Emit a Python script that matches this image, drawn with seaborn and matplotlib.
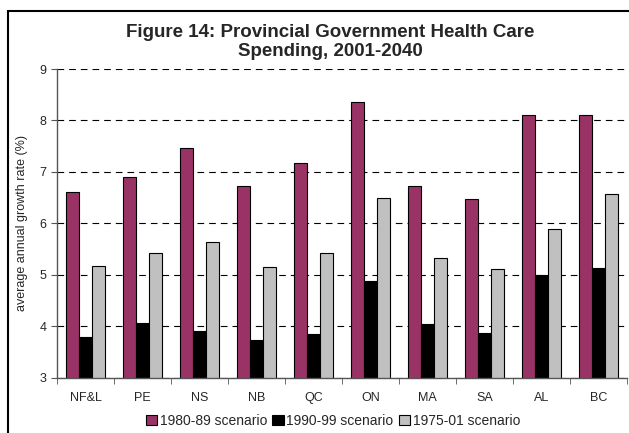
import numpy as np
import pandas as pd
import seaborn as sns
import matplotlib
matplotlib.use("Agg")
from matplotlib import pyplot as plt
from matplotlib.patches import Rectangle

# 数据
provinces = ["NF&L", "PE", "NS", "NB", "QC", "ON", "MA", "SA", "AL", "BC"]
scenarios = ["1980-89 scenario", "1990-99 scenario", "1975-01 scenario"]
rate_1980_89 = [6.61, 6.91, 7.46, 6.72, 7.18, 8.36, 6.73, 6.47, 8.11, 8.11]
rate_1990_99 = [3.79, 4.06, 3.91, 3.73, 3.84, 4.87, 4.05, 3.87, 5.00, 5.14]
rate_1975_01 = [5.17, 5.43, 5.64, 5.15, 5.43, 6.50, 5.33, 5.11, 5.89, 6.57]
colors = ["#993366", "#000000", "#C0C0C0"]

df = pd.DataFrame({
    "province": provinces * 3,
    "scenario": [s for s in scenarios for _ in provinces],
    "rate": rate_1980_89 + rate_1990_99 + rate_1975_01,
})

sns.set_style("white")
plt.rcParams["font.family"] = ["Liberation Sans", "DejaVu Sans"]

fig = plt.figure(figsize=(6.29, 4.33), dpi=100)
ax = fig.add_axes([57 / 629, 1 - 377.7 / 433, 570 / 629, (377.7 - 69) / 433])

sns.barplot(data=df, x="province", y="rate", hue="scenario", palette=colors,
            width=0.667, gap=0, edgecolor="black", linewidth=0.8, ax=ax,
            errorbar=None, saturation=1)

# 坐标轴
ax.set_ylim(3, 9)
ax.set_xlim(-0.5, 9.5)
ax.set_yticks(range(3, 10))
ax.yaxis.grid(True, linestyle=(0, (6, 4.5)), color="black", linewidth=0.8)
ax.xaxis.grid(False)
ax.set_axisbelow(True)
for s in ["top", "right"]:
    ax.spines[s].set_visible(False)
for s in ["left", "bottom"]:
    ax.spines[s].set_color("#555555")
    ax.spines[s].set_linewidth(1.0)

ax.set_xticks(np.arange(-0.5, 10, 1), minor=True)
ax.tick_params(axis="x", which="major", length=0, labelsize=9, pad=10)
ax.tick_params(axis="x", which="minor", length=4, direction="out", color="#555555", bottom=True)
ax.tick_params(axis="y", length=4, direction="out", color="#555555", labelsize=9, left=True)
ax.set_xlabel("")
ax.set_ylabel("average annual growth rate (%)", fontsize=9, labelpad=8)

# 标题
fig.text(330 / 629, 1 - 42 / 433, "Figure 14: Provincial Government Health Care\nSpending, 2001-2040",
         ha="center", va="center", fontsize=13.5, fontweight="bold", linespacing=1.2)

# 图例
handles, labels = ax.get_legend_handles_labels()
ax.get_legend().remove()
fig.legend(handles, labels, loc="center", bbox_to_anchor=(333 / 629, 1 - 421 / 433),
           ncol=3, frameon=False, fontsize=10, handlelength=0.8, handleheight=0.8,
           handletextpad=0.2, columnspacing=0.4)

# 外框
fig.patches.append(Rectangle((8 / 629, -0.1), 1.2, 0.1 + 1 - 11 / 433, transform=fig.transFigure,
                             fill=False, edgecolor="black", linewidth=1.5))

fig.savefig("out.png", dpi=100)
